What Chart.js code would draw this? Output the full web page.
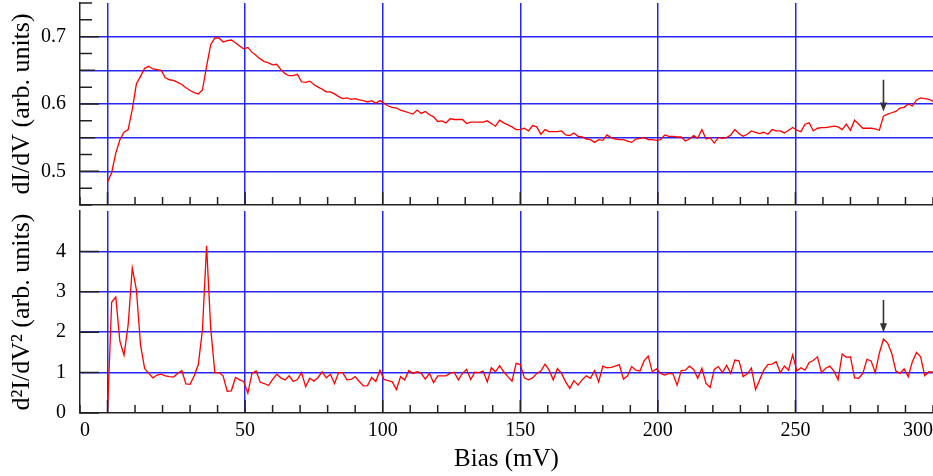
<!DOCTYPE html>
<html>
<head>
<meta charset="utf-8">
<script src="https://cdn.jsdelivr.net/npm/chart.js@4/dist/chart.umd.min.js"></script>
<style>
  html, body { margin: 0; padding: 0; background: #fff; overflow: hidden; }
  #wrap { position: relative; width: 933px; height: 476px; }
  canvas { position: absolute; left: 0; }
  #topChart { top: 0; }
  #botChart { top: 208px; }
</style>
</head>
<body>
<div id="wrap">
  <canvas id="topChart" width="933" height="208"></canvas>
  <canvas id="botChart" width="933" height="268"></canvas>
</div>
<script>
// bias (mV)
const bias = [
  0,1.5,3,4.5,6,7.5,9,10.5,12,13.5,15,16.5,18,19.5,21,22.5,24,25.5,27,28.5,
  30,31.5,33,34.5,36,37.5,39,40.5,42,43.5,45,46.5,48,49.5,51,52.5,54,55.5,57,58.5,
  60,61.5,63,64.5,66,67.5,69,70.5,72,73.5,75,76.5,78,79.5,81,82.5,84,85.5,87,88.5,
  90,91.5,93,94.5,96,97.5,99,100.5,102,103.5,105,106.5,108,109.5,111,112.5,114,115.5,117,118.5,
  120,121.5,123,124.5,126,127.5,129,130.5,132,133.5,135,136.5,138,139.5,141,142.5,144,145.5,147,148.5,
  150,151.5,153,154.5,156,157.5,159,160.5,162,163.5,165,166.5,168,169.5,171,172.5,174,175.5,177,178.5,
  180,181.5,183,184.5,186,187.5,189,190.5,192,193.5,195,196.5,198,199.5,201,202.5,204,205.5,207,208.5,
  210,211.5,213,214.5,216,217.5,219,220.5,222,223.5,225,226.5,228,229.5,231,232.5,234,235.5,237,238.5,
  240,241.5,243,244.5,246,247.5,249,250.5,252,253.5,255,256.5,258,259.5,261,262.5,264,265.5,267,268.5,
  270,271.5,273,274.5,276,277.5,279,280.5,282,283.5,285,286.5,288,289.5,291,292.5,294,295.5,297,298.5,
  300
];

// dI/dV (arb. units)
const dIdV = [
  0.484,0.498,0.527,0.547,0.558,0.562,0.592,0.630,0.641,0.653,0.656,0.652,0.651,0.650,0.639,0.636,0.635,0.632,0.629,0.624,
  0.620,0.617,0.615,0.621,0.656,0.688,0.698,0.698,0.692,0.694,0.695,0.691,0.686,0.682,0.684,0.677,0.672,0.667,0.663,0.661,
  0.658,0.659,0.651,0.645,0.642,0.642,0.644,0.633,0.632,0.634,0.629,0.625,0.622,0.618,0.618,0.615,0.611,0.608,0.609,0.607,
  0.608,0.606,0.605,0.603,0.605,0.601,0.605,0.601,0.597,0.595,0.594,0.591,0.589,0.587,0.585,0.591,0.586,0.589,0.584,0.581,
  0.574,0.575,0.572,0.578,0.577,0.577,0.577,0.571,0.573,0.573,0.573,0.573,0.575,0.571,0.567,0.576,0.572,0.569,0.566,0.562,
  0.562,0.564,0.560,0.568,0.566,0.555,0.562,0.559,0.559,0.559,0.560,0.554,0.553,0.557,0.552,0.551,0.548,0.547,0.543,0.547,
  0.546,0.554,0.550,0.548,0.547,0.547,0.545,0.543,0.548,0.549,0.550,0.547,0.547,0.546,0.547,0.554,0.552,0.552,0.551,0.551,
  0.545,0.548,0.553,0.549,0.562,0.548,0.550,0.542,0.550,0.549,0.550,0.554,0.562,0.556,0.552,0.555,0.560,0.558,0.556,0.558,
  0.555,0.562,0.560,0.560,0.557,0.561,0.565,0.561,0.559,0.570,0.572,0.560,0.564,0.565,0.565,0.566,0.567,0.566,0.562,0.570,
  0.561,0.576,0.570,0.564,0.564,0.564,0.563,0.561,0.582,0.585,0.587,0.589,0.594,0.595,0.600,0.597,0.606,0.609,0.608,0.607,
  0.604
];

// d2I/dV2 (arb. units)
const d2IdV2 = [
  0,2.74,2.87,1.77,1.43,2.18,3.59,3.05,1.68,1.10,0.98,0.87,0.94,0.96,0.92,0.90,0.89,0.98,1.05,0.72,
  0.71,0.92,1.20,2.06,4.14,2.10,1.00,1.00,0.92,0.54,0.55,0.88,0.82,0.78,0.49,0.98,1.04,0.76,0.73,0.68,
  0.83,0.96,0.87,0.82,0.92,0.78,0.83,1.00,0.65,0.86,0.79,0.88,1.02,0.87,0.96,0.73,1.00,1.00,0.82,0.83,
  0.90,0.78,0.67,0.68,0.88,0.78,1.06,0.83,0.80,0.77,0.58,0.90,0.82,1.05,0.98,1.02,0.98,0.84,0.98,0.75,
  0.92,0.92,0.92,0.98,1.01,0.82,0.98,1.08,0.83,1.01,1.00,1.04,0.77,1.12,1.02,1.17,1.02,0.90,0.79,1.23,
  1.20,0.87,0.82,0.87,0.98,1.04,1.21,1.06,0.82,1.10,0.98,0.77,0.61,0.80,0.69,0.82,0.92,0.86,1.05,0.77,
  1.16,1.12,1.13,1.16,1.20,0.84,0.92,1.15,1.06,1.04,1.29,1.41,1.02,1.09,0.98,0.94,0.98,0.97,0.69,1.05,
  1.06,1.16,1.08,0.86,1.11,0.73,0.63,1.08,1.15,1.00,1.18,0.98,1.31,1.29,0.90,0.97,1.11,0.58,0.82,1.06,
  1.20,1.21,1.27,1.00,1.16,1.06,1.44,1.04,1.12,1.06,1.25,1.30,1.39,1.00,1.11,1.16,1.04,0.82,1.46,1.38,
  1.39,0.87,0.86,0.98,1.33,1.29,1.00,1.48,1.83,1.73,1.48,1.04,0.98,1.09,0.90,1.27,1.50,1.39,0.92,1.02,
  1.01
];

// axes
const xTicks     = [-10,0,10,20,30,40,50,60,70,80,90,100,110,120,130,140,150,160,170,180,190,200,210,220,230,240,250,260,270,280,290,300];
const xMajor     = [0,50,100,150,200,250];
const xLabelAt   = [-10,50,100,150,200,250,300];
const xLabelText = ['0','50','100','150','200','250','300'];

const topYTicks  = [0.45,0.475,0.5,0.525,0.55,0.575,0.6,0.625,0.65,0.675,0.7,0.725,0.75];
const topYGrid   = [0.5,0.55,0.6,0.65,0.7];
const topYLabels = [0.5,0.6,0.7];
const topYText   = ['0.5','0.6','0.7'];

const botYTicks  = [0,1,2,3,4];
const botYGrid   = [1,2,3,4];
const botYLabels = [0,1,2,3,4];
const botYText   = ['0','1','2','3','4'];

// arrow marks (bias, from, to)
const arrowBias = 282;
const topArrow  = [0.636, 0.589];
const botArrow  = [2.8, 2.0];

const BLUE  = '#2626f5';
const AXIS  = '#222';
const SERIF = "'Liberation Serif', 'DejaVu Serif', serif";

// ticks drawn inward, like the original plot
function innerTicks(yLabels, yGrid) {
    return {
        id: 'innerTicks',
        afterDraw(chart) {
            const { ctx, chartArea: a, scales: { x, y } } = chart;
            ctx.save();
            ctx.strokeStyle = AXIS;
            ctx.lineWidth = 1.5;
            ctx.beginPath();
            x.ticks.forEach(t => {
                const px  = x.getPixelForValue(t.value);
                const len = xMajor.includes(t.value) ? 13 : 8;
                ctx.moveTo(px, a.bottom);
                ctx.lineTo(px, a.bottom - len);
            });
            y.ticks.forEach(t => {
                const py  = y.getPixelForValue(t.value);
                const len = yLabels.includes(t.value) ? 19 : (yGrid.includes(t.value) ? 15 : 12);
                ctx.moveTo(a.left, py);
                ctx.lineTo(a.left + len, py);
            });
            ctx.stroke();
            ctx.restore();
        }
    };
}

function arrowMark(range) {
    return {
        id: 'arrowMark',
        afterDraw(chart) {
            const { ctx, scales: { x, y } } = chart;
            const px = x.getPixelForValue(arrowBias);
            const y1 = y.getPixelForValue(range[0]);
            const y2 = y.getPixelForValue(range[1]);
            ctx.save();
            ctx.strokeStyle = '#333';
            ctx.fillStyle   = '#333';
            ctx.lineWidth   = 1.6;
            ctx.beginPath();
            ctx.moveTo(px, y1);
            ctx.lineTo(px, y2 - 6);
            ctx.stroke();
            ctx.beginPath();
            ctx.moveTo(px - 3.5, y2 - 9);
            ctx.lineTo(px + 3.5, y2 - 9);
            ctx.lineTo(px, y2);
            ctx.closePath();
            ctx.fill();
            ctx.restore();
        }
    };
}

function buildPanel(id, values, p) {
    const ctx = document.getElementById(id).getContext('2d');
    return new Chart(ctx, {
        type: 'line',
        data: {
            datasets: [{
                data: bias.map((b, i) => ({ x: b, y: values[i] })),
                borderColor: '#ff0000',
                borderWidth: 1.3,
                pointRadius: 0,
                tension: 0,
                fill: false,
            }]
        },
        options: {
            responsive: false,
            animation: false,
            layout: { padding: { top: 3, left: 0, right: 0, bottom: 0 } },
            plugins: { legend: { display: false }, tooltip: { enabled: false } },
            scales: {
                x: {
                    type: 'linear', min: -10, max: 300,
                    afterBuildTicks: s => { s.ticks = xTicks.map(v => ({ value: v })); },
                    afterFit: s => { s.height = p.xHeight; s.paddingLeft = 0; s.paddingRight = 0; },
                    grid: {
                        color: c => (c.tick && xMajor.includes(c.tick.value)) ? BLUE : 'rgba(0,0,0,0)',
                        drawTicks: false, lineWidth: 1.5,
                    },
                    border: { color: AXIS, width: 1.5 },
                    ticks: {
                        display: p.showX, autoSkip: false, maxRotation: 0, align: 'inner',
                        padding: 6, color: '#000', font: { family: SERIF, size: 20 },
                        callback: v => { const k = xLabelAt.indexOf(v); return k < 0 ? '' : xLabelText[k]; }
                    },
                    title: {
                        display: p.showX, text: 'Bias (mV)', color: '#000',
                        font: { family: SERIF, size: 25 }, padding: { top: 0, bottom: 2 }
                    }
                },
                y: {
                    type: 'linear', min: p.yMin, max: p.yMax,
                    afterBuildTicks: s => { s.ticks = p.yTicks.map(v => ({ value: v })); },
                    afterFit: s => { s.width = 80; s.paddingTop = 0; s.paddingBottom = 0; },
                    grid: {
                        color: c => (c.tick && p.yGrid.includes(c.tick.value)) ? BLUE : 'rgba(0,0,0,0)',
                        drawTicks: false, lineWidth: 1.5,
                    },
                    border: { color: AXIS, width: 1.5 },
                    ticks: {
                        autoSkip: false, padding: 14, color: '#000', font: { family: SERIF, size: 20 },
                        callback: v => { const k = p.yLabels.indexOf(v); return k < 0 ? '' : p.yText[k]; }
                    },
                    title: {
                        display: true, text: p.title, color: '#000',
                        font: { family: SERIF, size: 26 }, padding: { top: 7, bottom: 0 }
                    }
                }
            }
        },
        plugins: [innerTicks(p.yLabels, p.yGrid), arrowMark(p.arrow)]
    });
}

buildPanel('topChart', dIdV, {
    xHeight: 3, showX: false,
    yMin: 0.45, yMax: 0.75,
    yTicks: topYTicks, yGrid: topYGrid, yLabels: topYLabels, yText: topYText,
    title: 'dI/dV (arb. units)', arrow: topArrow,
});

buildPanel('botChart', d2IdV2, {
    xHeight: 63, showX: true,
    yMin: 0, yMax: 5,
    yTicks: botYTicks, yGrid: botYGrid, yLabels: botYLabels, yText: botYText,
    title: 'd²I/dV² (arb. units)', arrow: botArrow,
});
</script>
</body>
</html>
